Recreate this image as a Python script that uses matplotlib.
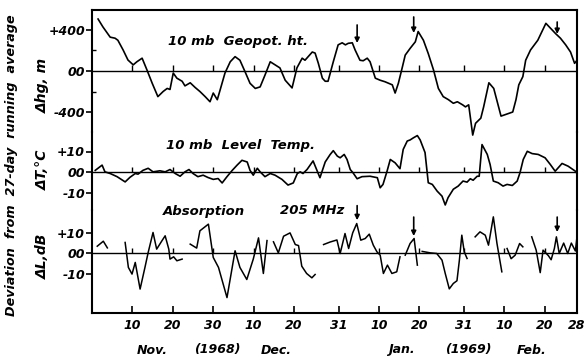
import numpy as np
import matplotlib
matplotlib.use("Agg")
import matplotlib.pyplot as plt
from matplotlib.transforms import blended_transform_factory

nan = np.nan

# day 0 = 1 Nov 1968
ht_days = [0.5, 1.7, 3.5, 4.7, 5.4, 6.7, 7.9, 9.2, 10.1, 11.4, 12.6, 13.9, 15.3, 16.6,
           17.6, 18.3, 19.1, 20.0, 21.3, 22.0, 23.3, 24.5, 25.7, 27.0, 28.2, 29.0, 30.0,
           30.7, 31.9, 33.2, 34.4, 35.6, 36.9, 38.1, 39.4, 40.6, 41.8, 43.1, 44.3, 45.5,
           46.8, 48.5, 49.7, 51.0, 51.7, 53.5, 54.2, 55.0, 56.0, 56.7, 57.4, 58.7, 59.9,
           60.9, 61.7, 62.4, 63.4, 64.1, 65.3, 66.1, 67.1, 67.8, 69.1, 70.3, 71.5, 73.3,
           74.0, 74.8, 75.8, 76.5, 77.7, 79.0, 79.7, 81.0, 82.2, 83.5, 84.7, 85.9, 87.2,
           88.4, 89.4, 90.7, 91.4, 92.2, 93.2, 93.9, 95.2, 95.9, 97.2, 98.4, 100.2, 103.1,
           103.9, 104.6, 105.6, 106.3, 107.5, 109.3, 111.3, 112.5, 113.7, 114.9, 116.2,
           117.4, 118.4, 119.0]
ht_vals = [507, 430, 330, 320, 300, 205, 107, 60, 90, 125, 10, -120, -250, -200,
           -170, -180, -20, -70, -100, -145, -115, -160, -200, -250, -300, -215, -280,
           -185, -20, 90, 140, 105, -10, -120, -170, -155, -40, 90, 60, 30,
           -90, -165, 30, 125, 105, 185, 175, 75, -70, -100, -100, 90, 255,
           275, 255, 270, 275, 205, 105, 100, 125, 90, -70, -90, -105, -135,
           -215, -120, 40, 155, 220, 285, 385, 300, 170, 10, -170, -250, -280,
           -315, -300, -330, -350, -330, -625, -510, -460, -350, -115, -170, -440, -400,
           -280, -135, -55, 105, 205, 300, 465, 415, 365, 320, 255,
           185, 75, 105]

temp_days = [-0.2, 1.5, 2.2, 3.5, 5.2, 7.2, 8.4, 9.7, 10.4, 11.6, 12.9, 14.1, 15.8, 17.1,
             18.3, 19.6, 20.8, 22.0, 23.0, 24.0, 25.2, 26.5, 27.7, 29.0, 30.2, 31.2, 32.4,
             33.7, 34.9, 36.1, 37.4, 38.1, 38.9, 39.9, 40.6, 41.8, 43.1, 44.3, 46.0, 47.5,
             48.8, 49.8, 50.5, 51.2, 52.2, 53.7, 55.4, 56.7, 57.9, 58.7, 59.7, 60.4, 61.4,
             62.1, 62.9, 63.6, 64.6, 65.8, 67.8, 69.6, 70.3, 71.0, 72.0, 72.8, 74.0, 75.2,
             76.0, 77.0, 77.7, 78.5, 79.5, 80.2, 81.4, 82.2, 83.2, 84.4, 85.6, 86.4, 87.1,
             88.4, 89.6, 90.8, 91.8, 92.6, 93.3, 94.3, 94.8, 95.5, 96.8, 97.5, 98.3, 99.5,
             100.7, 101.7, 103.0, 104.2, 104.9, 105.7, 106.7, 107.9, 109.4, 111.1, 112.4,
             113.6, 115.3, 116.8, 118.6, 119.0]
temp_vals = [1, 3.5, 0.3, -0.5, -2, -4.5, -2.3, -0.5, -0.8, 1, 2, 0.3, 0.8, 0.3,
             1.4, -0.5, -1.8, 0.3, 1.4, -0.5, -2, -1.3, -2.4, -3.3, -2.9, -5, -2,
             1, 3.5, 5.8, 5, 1, -1.3, 2, 0.3, -2, -0.5, -1.3, -3.3, -6,
             -5, -0.5, 0.3, -0.5, 1.4, 5.5, -2.5, 5, 8.5, 10.4, 7.8, 7, 8.6,
             6.2, 1.4, -0.2, -3, -2, -1.8, -2.5, -7.3, -5.7, 0.6, 6.2, 4.6, 1.8,
             11, 15, 15.5, 16.5, 17.6, 15.5, 9.5, -4.9, -5.7, -8.9, -11.3, -15.5, -12,
             -8, -6.5, -4.1, -4.6, -3, -3.7, -1.8, -1.8, 13.3, 8.6, 3.8, -4.1, -4.9,
             -6.5, -5.7, -6.2, -4.1, -0.1, 6.2, 10.1, 9, 8.6, 7, 3.8,
             0.6, 4.3, 3, 0.6, -0.5]

# absorption record has gaps (nan)
abs_days = [0.3, 1.8, 2.8, nan,
            7.2, 8.0, 8.9, 9.7, 10.9, 12.1, 12.9, 14.1, 15.0, 16.3, 17.1, 18.0, 18.3,
            19.2, 20.0, 21.3, nan,
            23.3, 24.9, 25.7, 27.8, 29.0, 30.3, 32.4, 34.4, 35.6, 37.3, 38.9, 40.2,
            41.4, 42.3, nan,
            43.9, 45.1, 46.4, 48.0, 49.3, 50.1, 50.9, 52.1, 53.4, 54.2, nan,
            56.3, 57.9, 59.6, 60.4, 61.6, 62.5, 63.5, 64.5, 65.5, 66.6, 67.6, 68.6,
            69.5, 70.3, 71.1, 72.1, 73.2, 74.4, 75.2, nan,
            76.5, 77.7, 78.7, 79.5, nan,
            80.7, 82.7, 84.3, 85.6, 86.4, 87.4, 88.4, 89.3, 89.9, 90.5, 91.1, 91.8, nan,
            93.8, 95.0, 96.3, 97.1, 98.3, 99.2, 100.4, nan,
            101.7, 102.7, 103.7, 104.8, 105.6, nan,
            107.8, 108.9, 109.9, 110.6, 111.9, 112.6, 113.4, 113.9, 114.6, 115.7,
            116.7, 117.6, 118.6, 119.0]
abs_vals = [3.5, 5.9, 2.7, nan,
            5.3, -6.7, -9.9, -4.3, -17.1, -6.7, 0.5, 10.1, 2.1, 6.1, 8.5, 2.1, -2.7,
            -1.6, -3.5, -2.7, nan,
            4.5, 2.6, 10.9, 14.1, -1.9, -6.7, -21.2, 1.3, -6.7, -12.5, -2.7, 7.5,
            -9.6, 6.2, nan,
            5.6, 0.3, 8.3, 9.9, 4.3, 3.8, -6.1, -9.6, -11.7, -10.1, nan,
            4.3, 5.5, 6.5, 0, 9.6, 2.4, 9.9, 14.4, 6.4, 7.2, 9.3, 4,
            0.8, -0.8, -9.6, -5.6, -9.6, -8.8, -1.6, nan,
            -0.8, 4.8, 7.2, -5.6, nan,
            1, 0.3, 0, -3.2, -9.6, -17, -14.4, -13.1, -3.2, 8.8, 0.8, -2.4, nan,
            8, 10.4, 8.8, 4, 17.6, 4.8, -8.8, nan,
            2.4, -2.5, -0.8, 4.8, 3.2, nan,
            8, 1.6, -9.2, 1.6, -1, -3, 2.4, 8, 0, 5,
            0, 5, 1.2, 8]

tick_days = [9, 19, 29, 39, 49, 60, 70, 80, 91, 101, 111, 119]
tick_labels = ["10", "20", "30", "10", "20", "31", "10", "20", "31", "10", "20", "28"]
month_labels = ["Nov.", "(1968)", "Dec.", "Jan.", "(1969)", "Feb."]
month_days = [13.9, 29.9, 44.6, 75.5, 92.1, 107.7]
event_days = [64.6, 78.6, 114.1]

FONT = dict(family="DejaVu Sans", style="italic", weight="bold")
W_PX, H_PX = 585, 362


def px(x, y):
    return x / W_PX, 1 - y / H_PX


fig = plt.figure(figsize=(5.85, 3.62), dpi=100)
L, W = 92 / W_PX, 485 / W_PX
ax1 = fig.add_axes([L, 1 - 132 / H_PX, W, 122 / H_PX])
ax2 = fig.add_axes([L, 1 - 210 / H_PX, W, 78 / H_PX], sharex=ax1)
ax3 = fig.add_axes([L, 1 - 313 / H_PX, W, 103 / H_PX], sharex=ax1)

ax1.set_ylim(-595, 595)
ax2.set_ylim(-17.9, 19.3)
ax3.set_ylim(-28.6, 20.9)
ax1.set_xlim(-1, 119)

ax1.plot(ht_days, ht_vals, color="black", lw=1.2, clip_on=False)
ax2.plot(temp_days, temp_vals, color="black", lw=1.2, clip_on=False)
ax3.plot(abs_days, abs_vals, color="black", lw=1.1, clip_on=False)

# zero lines with small date marks
for ax, h in [(ax1, 60), (ax2, 2.8), (ax3, 2.8)]:
    ax.axhline(0, color="black", lw=1.0)
    ax.vlines(tick_days[:-1], 0, h, color="black", lw=1.0)
    ax.set_facecolor("none")
    for s in ax.spines.values():
        s.set_linewidth(1.5)
    ax.tick_params(axis="y", direction="out", length=4, width=1.2, labelsize=9, pad=1)

ax1.spines["bottom"].set_visible(False)
ax2.spines["top"].set_visible(False)
ax2.spines["bottom"].set_visible(False)
ax3.spines["top"].set_visible(False)
for ax in (ax1, ax2):
    ax.tick_params(axis="x", bottom=False, labelbottom=False)

ax1.set_yticks([-400, 0, 400], ["-400", "00", "+400"], **FONT)
ax1.set_yticks([-200, 200], minor=True)
ax1.tick_params(axis="y", which="minor", direction="in", length=3, width=1)
ax2.set_yticks([-10, 0, 10], ["-10", "00", "+10"], **FONT)
ax3.set_yticks([-10, 0, 10], ["-10", "00", "+10"], **FONT)

ax3.set_xticks(tick_days, tick_labels, **FONT)
ax3.tick_params(axis="x", direction="in", length=5, width=1.2, labelsize=9, pad=4)

trans = blended_transform_factory(ax3.transData, fig.transFigure)
for d, lab in zip(month_days, month_labels):
    ax3.text(d, px(0, 350)[1], lab, transform=trans, ha="center", va="center",
             fontsize=9, **FONT)

# event arrows
arrow_kw = dict(arrowstyle="-|>", color="black", lw=1.2, mutation_scale=7,
                shrinkA=0, shrinkB=0)
for d, (y0, y1) in zip(event_days, [(449, 273), (527, 371), (478, 361)]):
    ax1.annotate("", xy=(d, y1), xytext=(d, y0), arrowprops=arrow_kw,
                 annotation_clip=False)
for d, (y0, y1) in zip(event_days, [(23, 16), (17.5, 8.4), (17.5, 10.3)]):
    ax3.annotate("", xy=(d, y1), xytext=(d, y0), arrowprops=arrow_kw,
                 annotation_clip=False)

# panel captions
cap = dict(ha="left", va="center", fontsize=9.5, **FONT)
fig.text(*px(168, 42), "10 mb  Geopot. ht.", **cap)
fig.text(*px(166, 145), "10 mb  Level  Temp.", **cap)
fig.text(*px(163, 211), "Absorption", **cap)
fig.text(*px(280, 211), "205 MHz", **cap)

# y labels
fig.text(*px(43, 85), "Δhg, m", rotation=90, ha="center", va="center", fontsize=10, **FONT)
fig.text(*px(43, 170), "ΔT,°C", rotation=90, ha="center", va="center", fontsize=10, **FONT)
fig.text(*px(43, 256), "ΔL,dB", rotation=90, ha="center", va="center", fontsize=10, **FONT)
fig.text(*px(12, 316), "Deviation  from  27-day  running  average", rotation=90,
         ha="center", va="bottom", fontsize=9.2, **FONT)

fig.savefig("out.png", dpi=100)
